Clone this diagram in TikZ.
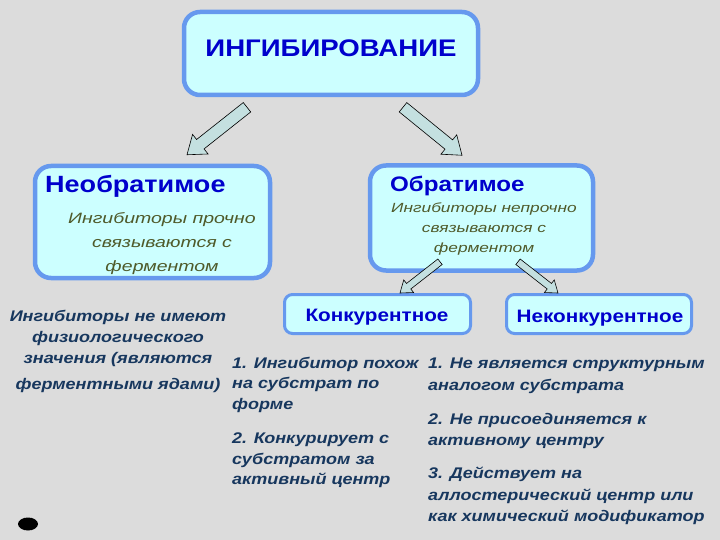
\documentclass[tikz,border=0pt]{standalone}
\usepackage{fontspec}
\setmainfont[FakeStretch=1.15]{Liberation Sans}
\newfontfamily\widefont[FakeStretch=1.3]{Liberation Sans}
\newfontfamily\notefont[FakeStretch=1.17]{Liberation Sans}
\usetikzlibrary{calc}
\definecolor{bg}{HTML}{DCDCDC}
\definecolor{boxfill}{HTML}{CCFFFF}
\definecolor{boxline}{HTML}{6699EE}
\definecolor{titleblue}{HTML}{0000CC}
\definecolor{olivetext}{HTML}{4F5A2A}
\definecolor{navytext}{HTML}{17375E}
\definecolor{arrowfill}{HTML}{C4E0E0}
\newcommand\blockarr[5]{% start, end, shaft half, head half, head length
  \draw[arrowstyle] ($(#1)!#3!90:(#2)$)
    -- ($($(#2)!#5!(#1)$)!#3!-90:(#1)$)
    -- ($($(#2)!#5!(#1)$)!#4!-90:(#1)$)
    -- (#2)
    -- ($($(#2)!#5!(#1)$)!#4!90:(#1)$)
    -- ($($(#2)!#5!(#1)$)!#3!90:(#1)$)
    -- ($(#1)!#3!-90:(#2)$) -- cycle;}
\begin{document}
\begin{tikzpicture}[x=1pt,y=-1pt,
  bigbox/.style={draw=boxline, fill=boxfill, line width=4.5pt, rounded corners=16pt, inner sep=0pt},
  smallbox/.style={draw=boxline, fill=boxfill, line width=3pt, rounded corners=8pt, inner sep=0pt},
  arrowstyle/.style={draw=black, fill=arrowfill, line width=0.6pt, line join=miter},
  titletext/.style={font=\bfseries\fontsize{21}{25}\selectfont, text=titleblue, inner sep=0pt},
  subtext/.style={font=\widefont\itshape\fontsize{15}{24}\selectfont, text=olivetext, align=center, inner sep=0pt},
  smallsub/.style={font=\widefont\itshape\fontsize{13.3}{20}\selectfont, text=olivetext, align=center, inner sep=0pt},
  note/.style={font=\notefont\bfseries\itshape\fontsize{15.4}{21.5}\selectfont, text=navytext, inner sep=0pt},
  boxtitle/.style={font=\bfseries\fontsize{18}{22}\selectfont, text=titleblue, inner sep=0pt}]
\fill[bg] (0,0) rectangle (720,540);
\useasboundingbox (0,0) rectangle (720,540);

% boxes
\node[bigbox, minimum width=294pt, minimum height=83pt] (top) at (331,53.5) {};
\node[titletext, font=\bfseries\fontsize{24}{28}\selectfont] (toptext) at (331,48) {ИНГИБИРОВАНИЕ};

\node[bigbox, minimum width=235pt, minimum height=112pt] (irr) at (152.5,222) {};
\node[titletext, font=\bfseries\fontsize{23.5}{27}\selectfont, anchor=west] (irrt) at (45,186) {Необратимое};
\node[subtext, anchor=north] (irrs) at (162,212) {Ингибиторы прочно\\связываются с\\ферментом};

\node[bigbox, minimum width=223pt, minimum height=105pt] (rev) at (481.5,218) {};
\node[titletext, anchor=west] (revt) at (390,186) {Обратимое};
\node[smallsub, anchor=north] (revs) at (484,203) {Ингибиторы непрочно\\связываются с\\ферментом};

\node[smallbox, minimum width=186pt, minimum height=39pt] (konk) at (377.5,314) {};
\node[boxtitle] (konkt) at (377,317) {Конкурентное};
\node[smallbox, minimum width=185pt, minimum height=39pt] (nekonk) at (599,314) {};
\node[boxtitle] (nekonkt) at (600,318) {Неконкурентное};

% arrows
\coordinate (a1s) at ($(top.south)+(-84,10)$);
\coordinate (a1e) at ($(irr.north)+(34.5,-9)$);
\coordinate (a2s) at ($(top.south)+(72,10)$);
\coordinate (a2e) at ($(rev.north)+(-19.5,-8)$);
\coordinate (a3s) at ($(rev.south)+(-41.5,-11)$);
\coordinate (a3e) at ($(konk.north)+(22.5,0)$);
\coordinate (a4s) at ($(rev.south)+(36.5,-11)$);
\coordinate (a4e) at ($(nekonk.north)+(-41,0)$);
\blockarr{a1s}{a1e}{6pt}{12.5pt}{17pt}
\blockarr{a2s}{a2e}{6pt}{12.5pt}{17pt}
\blockarr{a3s}{a3e}{3.5pt}{8pt}{11pt}
\blockarr{a4s}{a4e}{3.5pt}{8pt}{11pt}

% notes
\node[note, align=center, anchor=north] (n0) at (118,310) {Ингибиторы не имеют\\[-0.5pt]физиологического\\[-0.5pt]значения (являются\\[5pt]ферментными ядами)};
\node[note, align=left, anchor=north west] (n1) at (232,357) {1. Ингибитор похож\\[-1pt]на субстрат по\\[-1pt]форме};
\node[note, align=left, anchor=north west] (n2) at (232,433) {2. Конкурирует с\\[-1pt]субстратом за\\[-1pt]активный центр};
\node[note, align=left, anchor=north west] (n3) at (428,358) {1. Не является структурным\\аналогом субстрата};
\node[note, align=left, anchor=north west] (n4) at (428,413) {2. Не присоединяется к\\активному центру};
\node[note, align=left, anchor=north west] (n5) at (428,467) {3. Действует на\\аллостерический центр или\\как химический модификатор};

\fill[black] (28,524) ellipse (10pt and 6.5pt);
\end{tikzpicture}
\end{document}
